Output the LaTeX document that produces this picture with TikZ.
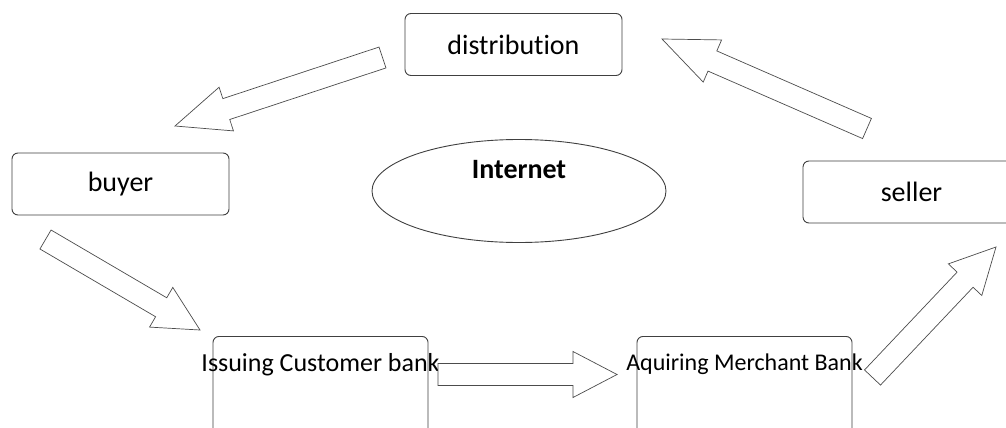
\documentclass[tikz,border=0pt]{standalone}
\usepackage{fontspec}
\setmainfont{Carlito}[Ligatures=NoCommon]
\usepackage{tikz}
\usetikzlibrary{calc,shapes.geometric}

\tikzset{
  caja/.style={draw=black!75, line width=0.9pt, rounded corners=6pt, fill=white,
    minimum width=217pt, minimum height=62pt, font=\fontsize{28}{32}\selectfont},
  banco/.style={draw=black!75, line width=0.9pt, rounded corners=6pt,
    minimum width=215pt, minimum height=120pt, anchor=north},
  blockarrow/.style={draw=black!70, line width=0.7pt, fill=white, line join=miter}
}

% block arrow from #2 (tail) to #3 (tip), #1 = head length
\newcommand{\blockarrow}[3][48pt]{%
  \coordinate (hb) at ($(#3)!#1!(#2)$);
  \draw[blockarrow] ($(#2)!11pt!90:(#3)$) -- ($(hb)!11pt!90:(#3)$) -- ($(hb)!23pt!90:(#3)$)
    -- (#3) -- ($(hb)!23pt!-90:(#3)$) -- ($(hb)!11pt!-90:(#3)$) -- ($(#2)!11pt!-90:(#3)$) -- cycle;
}

\begin{document}
\begin{tikzpicture}[x=1pt,y=-1pt]

\clip (0,0) rectangle (1006,428);
\fill[white] (0,0) rectangle (1006,428);

%   cajas
\node[caja] (distribution) at (513.5,44.5) {distribution};
\node[caja] (buyer) at (120.5,184) {buyer};
\node[caja] (seller) at (911.5,192) {seller};

\node[draw=black!75, line width=0.9pt, ellipse, minimum width=294pt, minimum height=103pt] (internet) at (519,191) {};
\node[font=\fontsize{28}{32}\selectfont\bfseries] at ([yshift=21pt]internet.center) {Internet};

\node[banco] (issuing) at (320.5,336) {};
\node[font=\fontsize{26}{30}\selectfont] at ([yshift=-29pt]issuing.north) {Issuing Customer bank};
\node[banco] (acquiring) at (744.5,336) {};
\node[font=\fontsize{24}{28}\selectfont] at ([yshift=-28pt]acquiring.north) {Aquiring Merchant Bank};

%   flechas
\coordinate (t1) at (382.5,57.5);  \coordinate (p1) at (175,126);
\coordinate (t2) at (867,128.5);   \coordinate (p2) at (662,39);
\coordinate (t3) at (45.5,239.5);  \coordinate (p3) at (200,330);
\coordinate (t4) at (438,374.5);   \coordinate (p4) at (617,374.5);
\coordinate (t5) at (872.5,377.5); \coordinate (p5) at (996,247);

\blockarrow[54pt]{t1}{p1}
\blockarrow[55pt]{t2}{p2}
\blockarrow[45pt]{t3}{p3}
\blockarrow[44pt]{t4}{p4}
\blockarrow[45pt]{t5}{p5}

\end{tikzpicture}
\end{document}
